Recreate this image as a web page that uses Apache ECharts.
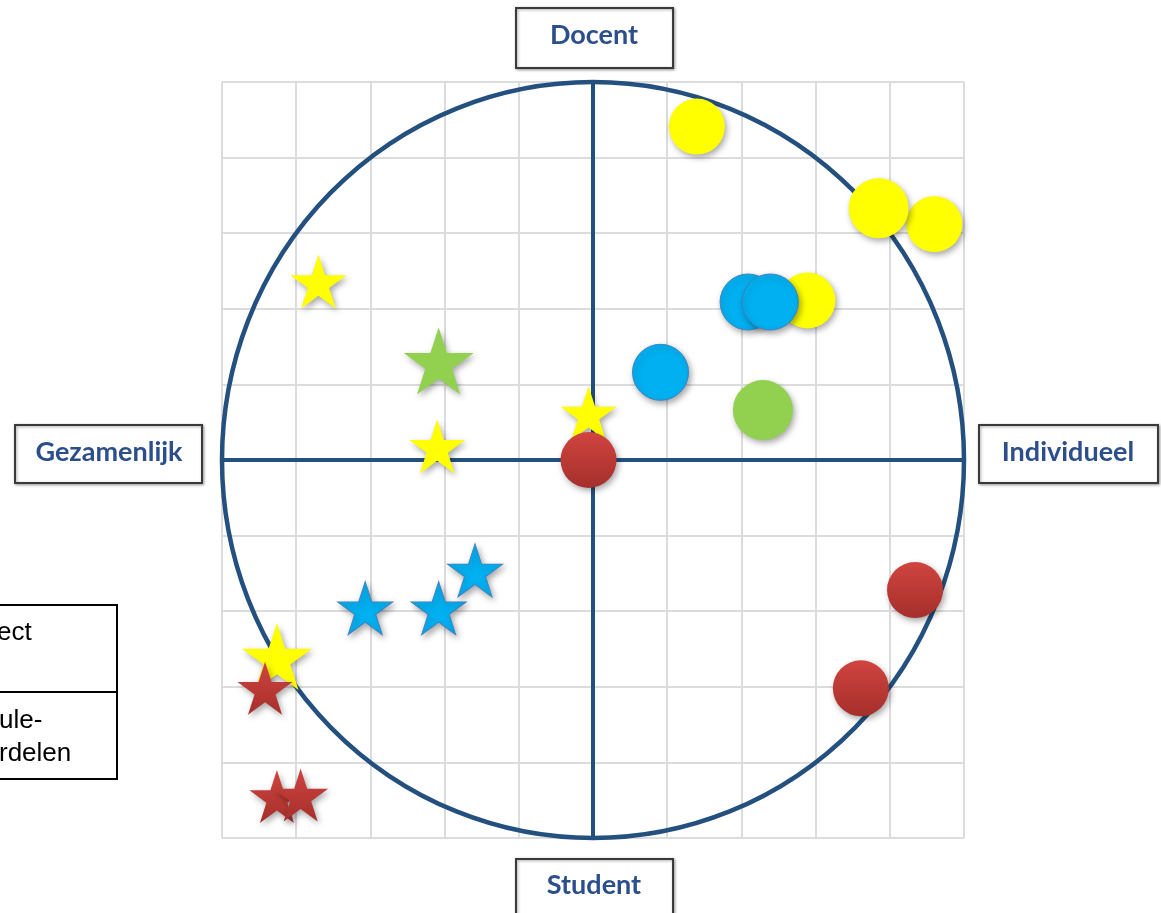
<!DOCTYPE html>
<html>
<head>
<meta charset="utf-8">
<script src="https://cdn.jsdelivr.net/npm/echarts@6/dist/echarts.min.js"></script>
<style>
  html, body { margin: 0; padding: 0; background: #ffffff; }
  #chart { width: 1161px; height: 913px; }
</style>
</head>
<body>
<div id="chart"></div>
<script>
// ---- data (x: Gezamenlijk -5 .. Individueel +5, y: Student -5 .. Docent +5) ----
const axisTicks = [-5, -4, -3, -2, -1, 0, 1, 2, 3, 4, 5];
const quadrantLabels = ['Docent', 'Student', 'Gezamenlijk', 'Individueel'];
const legendLabels = ['ect', 'ule-', 'rdelen'];
const boundaryCircle = [[0, 0, 5]]; // centre x, centre y, radius

const yellowCircles = [[1.40, 4.41], [4.60, 3.12], [2.89, 2.11]];
const yellowCirclesLarge = [[3.85, 3.33]];
const blueCircles = [[2.09, 2.09], [2.39, 2.09], [0.91, 1.16]];
const greenCircles = [[2.29, 0.66]];
const yellowStars = [[-3.70, 2.36], [-2.10, 0.18], [-0.06, 0.62]];
const yellowStarsLarge = [[-4.26, -2.60]];
const greenStars = [[-2.08, 1.31]];
const blueStars = [[-3.07, -1.96], [-2.08, -1.96], [-1.59, -1.46]];
const redStars = [[-4.42, -3.02], [-4.26, -4.45], [-3.94, -4.43]];
const redCircles = [[-0.06, 0.00], [4.34, -1.72], [3.61, -3.02]];

// ---- styles ----
const STAR = 'path://M50,0L61.23,34.55L97.55,34.55L68.17,55.9L79.39,90.45L50,69.1L20.61,90.45L31.83,55.9L2.45,34.55L38.77,34.55Z';
const NAVY = '#24507F';
const LABEL_COLOR = '#2C4F8C';
const shadow = { shadowBlur: 6, shadowColor: 'rgba(0,0,0,0.35)', shadowOffsetX: 2, shadowOffsetY: 3 };
const redFill = { type: 'linear', x: 0, y: 0, x2: 0, y2: 1,
  colorStops: [{ offset: 0, color: '#D0443F' }, { offset: 1, color: '#A52F2B' }] };

function scatter(name, data, symbol, size, color, extra) {
  return {
    name: name, type: 'scatter', data: data, symbol: symbol, symbolSize: size, z: 3,
    silent: true,
    itemStyle: Object.assign({ color: color, opacity: 1 }, shadow, extra || {})
  };
}

const chart = echarts.init(document.getElementById('chart'));

const valueAxis = function () {
  return {
    type: 'value', min: -5, max: 5, interval: 1,
    axisLabel: { show: false },
    axisTick: { show: false },
    axisLine: { show: true, onZero: true, lineStyle: { color: NAVY, width: 4 } },
    splitLine: { show: true, showMinLine: true, showMaxLine: true, lineStyle: { color: '#DCDCDC', width: 2 } }
  };
};

function box(x, y, w, h, text, tx, ty, font, color, lw) {
  return {
    type: 'group',
    children: [
      { type: 'rect', shape: { x: x, y: y, width: w, height: h },
        style: { fill: '#ffffff', stroke: '#3A3A3A', lineWidth: lw,
          shadowBlur: 3, shadowColor: 'rgba(0,0,0,0.35)', shadowOffsetX: 1, shadowOffsetY: 1 } },
      { type: 'text', x: tx, y: ty,
        style: { text: text, font: font, fill: color, align: 'center', verticalAlign: 'middle',
          textAlign: 'center', textVerticalAlign: 'middle' } }
    ]
  };
}

const boxFont = 'bold 27px Lato';
const legendFont = '26px "Liberation Sans"';

chart.setOption({
  animation: false,
  backgroundColor: '#ffffff',
  grid: { left: 222, right: 197, top: 82, bottom: 75 },
  xAxis: valueAxis(),
  yAxis: valueAxis(),
  graphic: [
    box(516, 8, 157, 60, quadrantLabels[0], 594, 35, boxFont, LABEL_COLOR, 2),
    box(516, 859, 157, 70, quadrantLabels[1], 594, 885, boxFont, LABEL_COLOR, 2),
    box(15, 425, 187, 58, quadrantLabels[2], 109, 452, boxFont, LABEL_COLOR, 2),
    box(979, 425, 179, 58, quadrantLabels[3], 1068, 452, boxFont, LABEL_COLOR, 2),
    {
      type: 'group',
      children: [
        { type: 'rect', shape: { x: -4, y: 605, width: 121, height: 174 },
          style: { fill: '#ffffff', stroke: '#000000', lineWidth: 2 } },
        { type: 'line', shape: { x1: -4, y1: 692, x2: 117, y2: 692 },
          style: { stroke: '#000000', lineWidth: 2 } },
        { type: 'text', x: -3, y: 633, style: { text: legendLabels[0], font: legendFont, fill: '#000', align: 'left', verticalAlign: 'middle', textAlign: 'left', textVerticalAlign: 'middle' } },
        { type: 'text', x: -1, y: 721, style: { text: legendLabels[1], font: legendFont, fill: '#000', align: 'left', verticalAlign: 'middle', textAlign: 'left', textVerticalAlign: 'middle' } },
        { type: 'text', x: -1, y: 754, style: { text: legendLabels[2], font: legendFont, fill: '#000', align: 'left', verticalAlign: 'middle', textAlign: 'left', textVerticalAlign: 'middle' } }
      ]
    }
  ],
  series: [
    {
      type: 'custom', z: 1, silent: true, data: boundaryCircle,
      renderItem: function (params, api) {
        const c = api.coord([api.value(0), api.value(1)]);
        const s = api.size([api.value(2), api.value(2)]);
        return {
          type: 'circle', x: c[0], y: c[1], scaleX: 1, scaleY: s[1] / s[0],
          shape: { cx: 0, cy: 0, r: s[0] },
          style: { fill: 'none', stroke: NAVY, lineWidth: 4.5, strokeNoScale: true }
        };
      }
    },
    scatter('yellowCircles', yellowCircles, 'circle', 56, '#FFFF00'),
    scatter('yellowCirclesLarge', yellowCirclesLarge, 'circle', 60, '#FFFF00'),
    scatter('blueCircles', blueCircles, 'circle', 56, '#00B0F0', { borderColor: '#3E83C4', borderWidth: 1 }),
    scatter('greenCircles', greenCircles, 'circle', 60, '#92D050'),
    scatter('yellowStars', yellowStars, STAR, [56, 54], '#FFFF00'),
    scatter('yellowStarsLarge', yellowStarsLarge, STAR, [70, 67], '#FFFF00'),
    scatter('greenStars', greenStars, STAR, [70, 67], '#92D050'),
    scatter('blueStars', blueStars, STAR, [55, 53], '#00B0F0', { borderColor: '#3E83C4', borderWidth: 1 }),
    scatter('redStars', redStars, STAR, [55, 53], redFill),
    scatter('redCircles', redCircles, 'circle', 56, redFill)
  ]
});
</script>
</body>
</html>
